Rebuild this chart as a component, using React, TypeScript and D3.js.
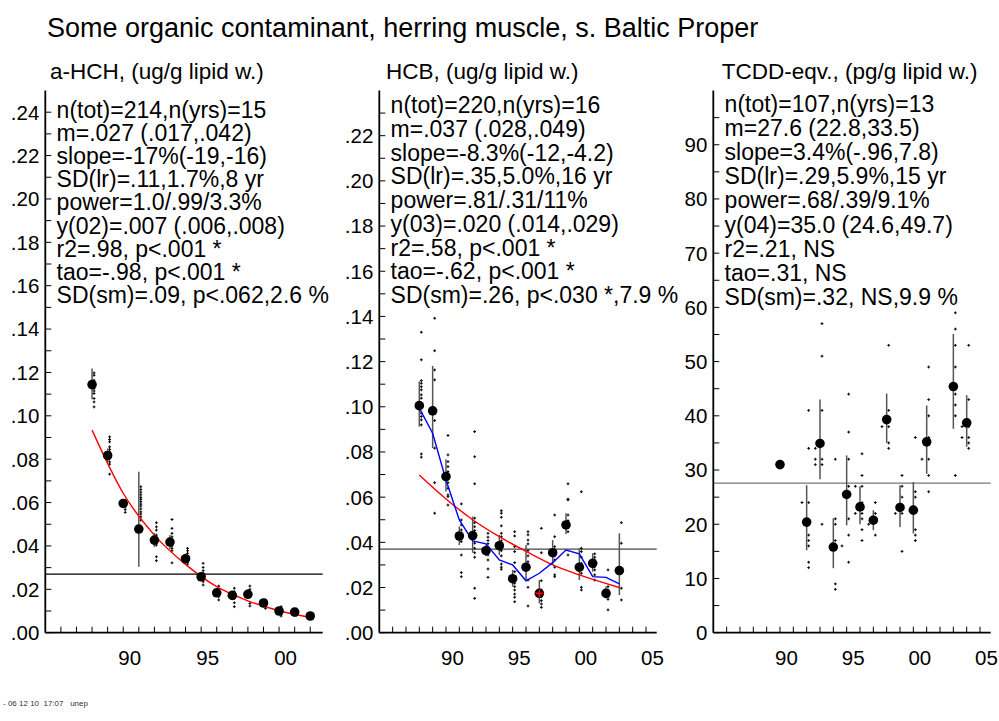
import React from "react";
import * as d3 from "d3";

const FONT = "'Liberation Sans', Arial, Helvetica, sans-serif";

// ---------- a-HCH (ug/g lipid w.) ----------
const hchYears = [1988, 1989, 1990, 1991, 1992, 1993, 1994, 1995, 1996, 1997, 1998, 1999, 2000, 2001, 2002];
const hchMeans = [0.1144, 0.0817, 0.0596, 0.0478, 0.0427, 0.0418, 0.0341, 0.0258, 0.0184, 0.0172, 0.0177, 0.0137, 0.0100, 0.0095, 0.0077];
const hchLow = [0.1076, 0.0785, 0.0575, 0.0304, 0.0395, 0.0385, 0.0320, 0.0240, 0.0165, 0.0155, 0.0155, 0.0125, 0.0090, 0.0088, 0.0070];
const hchHigh = [0.1218, 0.0850, 0.0615, 0.0742, 0.0460, 0.0450, 0.0365, 0.0278, 0.0205, 0.0190, 0.0200, 0.0150, 0.0112, 0.0103, 0.0085];
const hchSamples: [number, number[]][] = [
  [1988, [0.1198, 0.1187, 0.1164, 0.1149, 0.1136, 0.1126, 0.1115, 0.1103, 0.108, 0.1064, 0.1041]],
  [1989, [0.0903, 0.0891, 0.088, 0.0857, 0.0845, 0.0834, 0.0823, 0.0803, 0.0788, 0.0777, 0.0731]],
  [1990, [0.0611, 0.0596, 0.058, 0.0568, 0.0555]],
  [1991, [0.0673, 0.066, 0.0648, 0.0636, 0.0624, 0.0615, 0.0604, 0.0593, 0.0584, 0.0571, 0.0557, 0.0547, 0.0534, 0.0519]],
  [1992, [0.0507, 0.0488, 0.0473, 0.045, 0.044, 0.0427, 0.0415, 0.0404, 0.035, 0.0332]],
  [1993, [0.0522, 0.0481, 0.0458, 0.0442, 0.043, 0.0419, 0.0409, 0.04, 0.0389, 0.0378, 0.0322]],
  [1994, [0.0389, 0.0378, 0.0366, 0.0353, 0.0341, 0.0329, 0.0316]],
  [1995, [0.032, 0.0301, 0.0286, 0.0274, 0.0261, 0.0249, 0.0235, 0.022]],
  [1996, [0.0215, 0.0197, 0.0181, 0.0166, 0.0151]],
  [1997, [0.0205, 0.0189, 0.0174, 0.0158, 0.0138, 0.012]],
  [1998, [0.0215, 0.02, 0.0184, 0.0169, 0.0135, 0.0123]],
  [1999, [0.0151, 0.0138, 0.0123, 0.0112]],
  [2000, [0.012, 0.0108, 0.0097, 0.0086, 0.0077]],
  [2001, [0.0108, 0.0097, 0.0089, 0.0081]],
  [2002, [0.0086, 0.0077, 0.0068]],
];
const hchTrend: [number, number][] = [
  [1988, 0.0934], [1990, 0.0643], [1992, 0.045], [1994, 0.0315], [1996, 0.0212], [1998, 0.0147], [2000, 0.0101], [2002, 0.007],
];
const hchOverall = 0.027;
const hchStats = [
  "n(tot)=214,n(yrs)=15",
  "m=.027 (.017,.042)",
  "slope=-17%(-19,-16)",
  "SD(lr)=.11,1.7%,8 yr",
  "power=1.0/.99/3.3%",
  "y(02)=.007 (.006,.008)",
  "r2=.98, p<.001 *",
  "tao=-.98, p<.001 *",
  "SD(sm)=.09, p<.062,2.6 %",
];

// ---------- HCB (ug/g lipid w.) ----------
const hcbYears = [1988, 1989, 1990, 1991, 1992, 1993, 1994, 1995, 1996, 1997, 1998, 1999, 2000, 2001, 2002, 2003];
const hcbMeans = [0.1005, 0.0982, 0.0691, 0.0428, 0.043, 0.0363, 0.0385, 0.0239, 0.029, 0.0174, 0.0354, 0.0477, 0.029, 0.0307, 0.0174, 0.0275];
const hcbLow = [0.0912, 0.0817, 0.0625, 0.0388, 0.0354, 0.034, 0.0344, 0.0204, 0.0233, 0.013, 0.030, 0.0437, 0.0233, 0.027, 0.0152, 0.0167];
const hcbHigh = [0.1112, 0.1181, 0.0768, 0.047, 0.0514, 0.039, 0.0433, 0.0278, 0.0388, 0.0233, 0.041, 0.0529, 0.0374, 0.0352, 0.0204, 0.044];
const hcbSamples: [number, number[]][] = [
  [1988, [0.133, 0.1208, 0.1116, 0.1104, 0.1089, 0.1075, 0.1053, 0.1038, 0.0972, 0.0957, 0.0942, 0.092, 0.0791, 0.0777]],
  [1989, [0.1392, 0.1248, 0.1163, 0.1119, 0.0939, 0.0817, 0.0664, 0.0529]],
  [1990, [0.0873, 0.0787, 0.0757, 0.0735, 0.0713, 0.0691, 0.0664, 0.0639, 0.0602, 0.061, 0.0565]],
  [1991, [0.057, 0.0499, 0.0477, 0.0455, 0.044, 0.0423, 0.0403, 0.0344, 0.0266, 0.0248]],
  [1992, [0.089, 0.0779, 0.0659, 0.0507, 0.0487, 0.0469, 0.0452, 0.0433, 0.0418, 0.0396, 0.0374, 0.0354, 0.0334, 0.0197, 0.0152]],
  [1993, [0.044, 0.0423, 0.0408, 0.0394, 0.0379, 0.0344, 0.0322, 0.0282, 0.0245]],
  [1994, [0.054, 0.0529, 0.0511, 0.0473, 0.044, 0.0425, 0.0407, 0.0381, 0.0363, 0.034, 0.0304, 0.029, 0.0281]],
  [1995, [0.0447, 0.0428, 0.0381, 0.0359, 0.031, 0.027, 0.0236, 0.0219, 0.0204, 0.0189, 0.0171, 0.0157, 0.0137]],
  [1996, [0.0447, 0.0433, 0.041, 0.0393, 0.0363, 0.034, 0.0314, 0.0285, 0.0233, 0.0201, 0.0118]],
  [1997, [0.0462, 0.0354, 0.023, 0.0189, 0.0174, 0.0159, 0.0142, 0.0127, 0.0112]],
  [1998, [0.0521, 0.0425, 0.0381, 0.0363, 0.034, 0.0322, 0.029, 0.0256, 0.0248]],
  [1999, [0.0659, 0.0591, 0.0588, 0.0521, 0.0496, 0.0469, 0.0447, 0.0344]],
  [2000, [0.0624, 0.0374, 0.0359, 0.0334, 0.0307, 0.0285, 0.0263, 0.0201, 0.0189]],
  [2001, [0.0349, 0.0334, 0.0322, 0.0307, 0.0292, 0.0278, 0.0256, 0.0233]],
  [2002, [0.0278, 0.0204, 0.0189, 0.0174, 0.0159, 0.0148, 0.0101]],
  [2003, [0.0487, 0.0396, 0.0197, 0.0145]],
];
const hcbTrend: [number, number][] = [
  [1988, 0.0698], [1990, 0.0592], [1992, 0.05], [1994, 0.0425], [1996, 0.036], [1998, 0.03], [2000, 0.0256], [2003, 0.020],
];
const hcbSmooth: [number, number][] = [
  [1988, 0.0994], [1989, 0.0883], [1990, 0.0676], [1991, 0.0499], [1992, 0.0406], [1993, 0.0393], [1994, 0.0322], [1995, 0.030],
  [1996, 0.023], [1997, 0.0263], [1998, 0.031], [1999, 0.0366], [2000, 0.0349], [2001, 0.0248], [2002, 0.0245], [2003, 0.0216],
];
const hcbOutlierYears = [1997];
const hcbOverall = 0.037;
const hcbStats = [
  "n(tot)=220,n(yrs)=16",
  "m=.037 (.028,.049)",
  "slope=-8.3%(-12,-4.2)",
  "SD(lr)=.35,5.0%,16 yr",
  "power=.81/.31/11%",
  "y(03)=.020 (.014,.029)",
  "r2=.58, p<.001 *",
  "tao=-.62, p<.001 *",
  "SD(sm)=.26, p<.030 *,7.9 %",
];

// ---------- TCDD-eqv. (pg/g lipid w.) ----------
const tcddYears = [1990, 1992, 1993, 1994, 1995, 1996, 1997, 1998, 1999, 2000, 2001, 2003, 2004];
const tcddMeans = [31.0, 20.4, 34.9, 15.8, 25.5, 23.2, 20.75, 39.3, 23.1, 22.6, 35.2, 45.4, 38.7];
const tcddLow = [NaN, 15.2, 28.3, 11.9, 19.8, 20.0, 18.9, 35.0, 19.5, 18.3, 29.3, 37.6, 34.3];
const tcddHigh = [NaN, 27.2, 43.0, 21.1, 32.7, 27.0, 22.6, 44.1, 27.2, 27.8, 41.9, 55.1, 43.8];
const tcddSamples: [number, number[]][] = [
  [1991.5, [24]],
  [1992, [41, 34, 24, 18, 17, 16, 13, 12]],
  [1992.5, [34, 32, 31]],
  [1993, [57, 51, 41, 32, 31, 20]],
  [1994, [32, 21, 20, 17, 16, 9, 8]],
  [1994.5, [16]],
  [1995, [44, 37, 32, 27, 21, 18, 13]],
  [1995.5, [27, 22]],
  [1996, [33, 29, 27, 24, 22, 21, 19, 17]],
  [1996.5, [20]],
  [1997, [24, 22, 18]],
  [1997.5, [38]],
  [1998, [53, 41, 38, 35, 34]],
  [1998.5, [22]],
  [1999, [29, 27, 25, 22, 15]],
  [2000, [36, 26, 25, 19, 18, 17]],
  [2000.5, [32]],
  [2001, [49, 43, 40, 36, 32, 29, 26]],
  [2003, [59, 56, 53, 49, 44, 42, 40, 29]],
  [2003.5, [38, 36]],
  [2004, [53, 43, 38, 36, 35, 34]],
];
const tcddOverall = 27.6;
const tcddStats = [
  "n(tot)=107,n(yrs)=13",
  "m=27.6 (22.8,33.5)",
  "slope=3.4%(-.96,7.8)",
  "SD(lr)=.29,5.9%,15 yr",
  "power=.68/.39/9.1%",
  "y(04)=35.0 (24.6,49.7)",
  "r2=.21, NS",
  "tao=.31, NS",
  "SD(sm)=.32, NS,9.9 %",
];

const TITLE = "Some organic contaminant, herring muscle, s. Baltic Proper";
const FOOTER = "- 06 12 10  17:07   unep";

// ---------- layout ----------
const PLOT_TOP = 90.5;
const PLOT_BOTTOM = 632.7;
const PLOT_WIDTH = 277.4;
const TICK = 6;
const SAMPLE_DX = 2;

type PanelProps = {
  left: number;
  title: string;
  titleDx: number;
  xMax: number;
  xLabels: number[];
  yMax: number;
  yMinor: number;
  yMinorCount: number;
  yLabelEvery: number;
  yFormat: (v: number) => string;
  years: number[];
  means: number[];
  low: number[];
  high: number[];
  samples: [number, number[]][];
  overall: number;
  overallColor: string;
  trend?: [number, number][];
  smooth?: [number, number][];
  outliers?: number[];
  stats: string[];
  statsTop: number;
  statsStep: number;
};

const fmtDec = (v: number) => {
  const s = d3.format(".2f")(v);
  return s.startsWith("0") ? s.slice(1) : s;
};

function Panel(p: PanelProps) {
  const x = d3.scaleLinear().domain([1985, p.xMax]).range([p.left, p.left + PLOT_WIDTH]);
  const y = d3.scaleLinear().domain([0, p.yMax]).range([PLOT_BOTTOM, PLOT_TOP]);
  const xTicks = d3.range(1986, Math.floor(p.xMax) + 1);
  const yTicks = d3.range(0, p.yMinorCount).map((i) => ({ i, v: i * p.yMinor }));
  const line = d3
    .line<[number, number]>()
    .x((d) => x(d[0]))
    .y((d) => y(d[1]));
  const trendLine = d3
    .line<[number, number]>()
    .x((d) => x(d[0]))
    .y((d) => y(d[1]))
    .curve(d3.curveMonotoneX);

  return (
    <g>
      <text x={p.left + p.titleDx} y={79} fontSize={22.5} fontFamily={FONT}>
        {p.title}
      </text>

      {/* stats block */}
      {p.stats.map((s, i) => (
        <text key={i} x={p.left + 11.3} y={p.statsTop + i * p.statsStep} fontSize={23} fontFamily={FONT} style={{ whiteSpace: "pre" }}>
          {s}
        </text>
      ))}

      {/* overall mean line */}
      <line x1={p.left} x2={p.left + PLOT_WIDTH} y1={y(p.overall)} y2={y(p.overall)} stroke={p.overallColor} strokeWidth={1.3} />

      {/* individual samples */}
      {p.samples.flatMap(([t, vals], gi) =>
        vals.map((v, k) => {
          const cx = x(t) + SAMPLE_DX;
          const cy = y(v);
          return (
            <path key={`s${gi}-${k}`} d={`M${cx - 1.4},${cy}H${cx + 1.4}M${cx},${cy - 1.4}V${cy + 1.4}`} stroke="#000" strokeWidth={1} />
          );
        })
      )}

      {/* confidence bars */}
      {p.years.map((yr, i) =>
        isNaN(p.low[i]) ? null : (
          <line key={`b${yr}`} x1={x(yr)} x2={x(yr)} y1={y(p.low[i])} y2={y(p.high[i])} stroke="#555" strokeWidth={1.5} />
        )
      )}

      {/* fitted trend and smoother */}
      {p.trend && <path d={trendLine(p.trend) ?? ""} fill="none" stroke="#ff0000" strokeWidth={1.4} />}
      {p.smooth && <path d={line(p.smooth) ?? ""} fill="none" stroke="#0000ff" strokeWidth={1.4} />}

      {/* annual means */}
      {p.years.map((yr, i) => (
        <circle key={`m${yr}`} cx={x(yr)} cy={y(p.means[i])} r={4.8} fill="#000" />
      ))}
      {p.outliers &&
        p.outliers.map((yr) => {
          const i = p.years.indexOf(yr);
          const cx = x(yr);
          const cy = y(p.means[i]);
          return (
            <path key={`o${yr}`} d={`M${cx - 4},${cy}H${cx + 4}M${cx},${cy - 4}V${cy + 4}`} stroke="#ff0000" strokeWidth={1.6} />
          );
        })}

      {/* y axis */}
      <line x1={p.left} x2={p.left} y1={PLOT_TOP} y2={PLOT_BOTTOM} stroke="#000" strokeWidth={1.8} />
      {yTicks.map(({ i, v }) => (
        <g key={`yt${i}`}>
          <line x1={p.left} x2={p.left + TICK} y1={y(v)} y2={y(v)} stroke="#000" strokeWidth={1} />
          {i % p.yLabelEvery === 0 && (
            <text x={p.left - 6} y={y(v)} dy="0.36em" textAnchor="end" fontSize={20.5} fontFamily={FONT}>
              {p.yFormat(v)}
            </text>
          )}
        </g>
      ))}

      {/* x axis */}
      <line x1={p.left} x2={p.left + PLOT_WIDTH} y1={PLOT_BOTTOM} y2={PLOT_BOTTOM} stroke="#000" strokeWidth={1.8} />
      {xTicks.map((t) => (
        <line key={`xt${t}`} x1={x(t)} x2={x(t)} y1={PLOT_BOTTOM} y2={PLOT_BOTTOM - TICK} stroke="#000" strokeWidth={1} />
      ))}
      {p.xLabels.map((t) => (
        <text key={`xl${t}`} x={x(t) + 6.5} y={665} textAnchor="middle" fontSize={20.5} fontFamily={FONT}>
          {String(t % 100).padStart(2, "0")}
        </text>
      ))}
    </g>
  );
}

export default function App() {
  return (
    <svg width={999} height={721} style={{ position: "absolute", left: 0, top: 0, background: "#fff" }}>
      <rect width={999} height={721} fill="#fff" />
      <text x={47} y={37} fontSize={27} fontFamily={FONT}>
        {TITLE}
      </text>

      <Panel
        left={45.3}
        title="a-HCH, (ug/g lipid w.)"
        titleDx={4.7}
        xMax={2002.8}
        xLabels={[1990, 1995, 2000]}
        yMax={0.25}
        yMinor={0.01}
        yMinorCount={25}
        yLabelEvery={2}
        yFormat={fmtDec}
        years={hchYears}
        means={hchMeans}
        low={hchLow}
        high={hchHigh}
        samples={hchSamples}
        overall={hchOverall}
        overallColor="#000"
        trend={hchTrend}
        stats={hchStats}
        statsTop={118}
        statsStep={23.1}
      />
      <Panel
        left={379.3}
        title="HCB, (ug/g lipid w.)"
        titleDx={6.7}
        xMax={2005.8}
        xLabels={[1990, 1995, 2000, 2005]}
        yMax={0.24}
        yMinor={0.01}
        yMinorCount={24}
        yLabelEvery={2}
        yFormat={fmtDec}
        years={hcbYears}
        means={hcbMeans}
        low={hcbLow}
        high={hcbHigh}
        samples={hcbSamples}
        overall={hcbOverall}
        overallColor="#444"
        trend={hcbTrend}
        smooth={hcbSmooth}
        outliers={hcbOutlierYears}
        stats={hcbStats}
        statsTop={113}
        statsStep={23.75}
      />
      <Panel
        left={713.3}
        title="TCDD-eqv., (pg/g lipid w.)"
        titleDx={8.4}
        xMax={2005.8}
        xLabels={[1990, 1995, 2000, 2005]}
        yMax={100}
        yMinor={5}
        yMinorCount={20}
        yLabelEvery={2}
        yFormat={(v) => String(v)}
        years={tcddYears}
        means={tcddMeans}
        low={tcddLow}
        high={tcddHigh}
        samples={tcddSamples}
        overall={tcddOverall}
        overallColor="#777"
        stats={tcddStats}
        statsTop={111.5}
        statsStep={24.2}
      />

      <text x={3} y={706} fontSize={8} fontFamily={FONT} fill="#333" style={{ whiteSpace: "pre" }}>
        {FOOTER}
      </text>
    </svg>
  );
}
